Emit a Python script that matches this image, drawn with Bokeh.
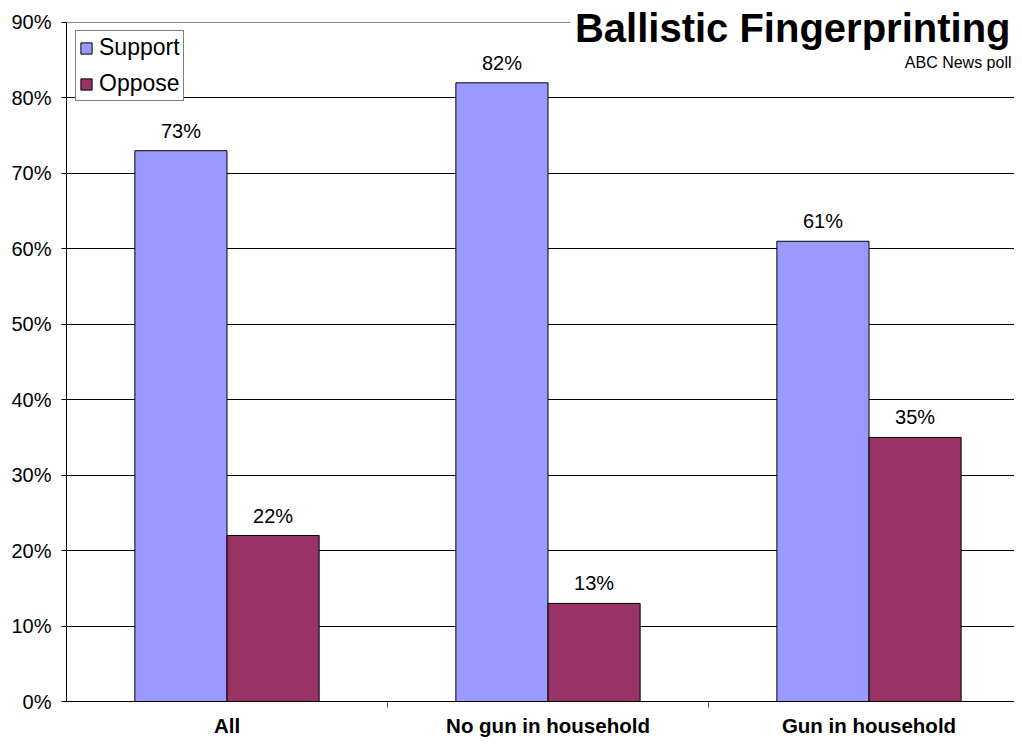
from bokeh.plotting import figure
from bokeh.models import (ColumnDataSource, FixedTicker, NumeralTickFormatter,
                          Legend, LegendItem, Label, Range1d, Span, BoxAnnotation)
from bokeh.core.properties import value
from bokeh.embed import file_html
from bokeh.resources import INLINE

categories = ["All", "No gun in household", "Gun in household"]
support = [0.73, 0.82, 0.61]
oppose = [0.22, 0.13, 0.35]
support_labels = ["73%", "82%", "61%"]
oppose_labels = ["22%", "13%", "35%"]
y_ticks = [0, 0.1, 0.2, 0.3, 0.4, 0.5, 0.6, 0.7, 0.8, 0.9]

FONT = "Liberation Sans"
SUPPORT_C = "#9999FF"
OPPOSE_C = "#993366"

n = len(categories)
bar_w = 0.287
centers = [i + 0.5 for i in range(n)]
sx = [c - bar_w / 2 for c in centers]
ox = [c + bar_w / 2 for c in centers]

W, H = 1014, 739
LEFT, BOTTOM = 66, 37
TOP_GAP = 22            # pixels between figure top and the 90% line
x_end = (W - LEFT) / 321.0
frame_h = H - BOTTOM
px_per_x = 321.0
px_per_y = (frame_h - TOP_GAP) / 0.9
y_max = y_ticks[-1]
y_end = y_max + TOP_GAP / px_per_y


def ys(screen_y):
    return y_end - screen_y / px_per_y


def xs(screen_x):
    return (screen_x - LEFT) / px_per_x


p = figure(width=W, height=H, output_backend="svg", toolbar_location=None,
           x_range=Range1d(0, x_end), y_range=Range1d(0, y_end),
           min_border_left=LEFT, min_border_right=0, min_border_top=0,
           min_border_bottom=BOTTOM)
p.outline_line_color = None
p.background_fill_color = "white"

s_src = ColumnDataSource(dict(x=sx, top=support, lab=support_labels))
o_src = ColumnDataSource(dict(x=ox, top=oppose, lab=oppose_labels))

r1 = p.vbar(x="x", top="top", bottom=0, width=bar_w, source=s_src,
            fill_color=SUPPORT_C, line_color="black", line_width=1)
r2 = p.vbar(x="x", top="top", bottom=0, width=bar_w, source=o_src,
            fill_color=OPPOSE_C, line_color="black", line_width=1)

for src in (s_src, o_src):
    p.text(x="x", y="top", text="lab", source=src, text_align="center",
           text_baseline="middle", y_offset=-20,
           text_font=value(FONT), text_font_size="20px", text_color="black")

# y axis
p.yaxis.ticker = FixedTicker(ticks=y_ticks)
p.yaxis.bounds = (0, y_max)
p.yaxis.formatter = NumeralTickFormatter(format="0%")
p.yaxis.major_label_text_font = FONT
p.yaxis.major_label_text_font_size = "20px"
p.yaxis.major_label_text_color = "black"
p.yaxis.axis_line_color = "black"
p.yaxis.major_tick_line_color = "black"
p.yaxis.major_tick_out = 5
p.yaxis.major_tick_in = 0
p.yaxis.minor_tick_line_color = None
p.yaxis.major_label_standoff = 10

# x axis
p.xaxis.ticker = FixedTicker(ticks=centers, minor_ticks=[1, 2])
p.xaxis.major_label_overrides = {c: cat for c, cat in zip(centers, categories)}
p.xaxis.major_label_text_font = FONT
p.xaxis.major_label_text_font_size = "20.5px"
p.xaxis.major_label_text_font_style = "bold"
p.xaxis.major_label_text_color = "black"
p.xaxis.axis_line_color = "black"
p.xaxis.major_tick_line_color = None
p.xaxis.major_tick_out = 0
p.xaxis.major_tick_in = 0
p.xaxis.minor_tick_line_color = "#555555"
p.xaxis.minor_tick_out = 6
p.xaxis.minor_tick_in = 0
p.xaxis.major_label_standoff = 6

p.xgrid.grid_line_color = None
p.ygrid.ticker = FixedTicker(ticks=y_ticks[:-1])
p.ygrid.grid_line_color = "black"
p.ygrid.grid_line_width = 1
p.add_layout(Span(location=y_max, dimension="width",
                  line_color="#808080", line_width=1))

# white area behind the title
p.add_layout(BoxAnnotation(left=xs(570), right=x_end,
                           bottom=ys(52), top=y_end,
                           fill_color="white", fill_alpha=1, line_color=None))

legend = Legend(items=[LegendItem(label="Support", renderers=[r1]),
                       LegendItem(label="Oppose", renderers=[r2])],
                location=(9, frame_h - 29 - 73))
legend.label_text_font = FONT
legend.label_text_font_size = "23px"
legend.label_text_color = "black"
legend.label_height = 26
legend.glyph_height = 14
legend.glyph_width = 14
legend.label_standoff = 6
legend.spacing = 9
legend.padding = 3
legend.margin = 0
legend.border_line_color = "black"
legend.border_line_width = 1
legend.background_fill_color = "white"
legend.background_fill_alpha = 1
p.add_layout(legend, "center")

title = Label(x=xs(W - 4), y=ys(28),
              text="Ballistic Fingerprinting",
              text_font=FONT, text_font_size="40px", text_font_style="bold",
              text_align="right", text_baseline="alphabetic",
              text_color="black")
p.add_layout(title)

sub = Label(x=xs(W - 3), y=ys(62),
            text="ABC News poll", text_font=FONT,
            text_font_size="16px", text_align="right",
            text_baseline="alphabetic", text_color="black")
p.add_layout(sub)

open("out.html", "w").write(file_html(p, INLINE))
